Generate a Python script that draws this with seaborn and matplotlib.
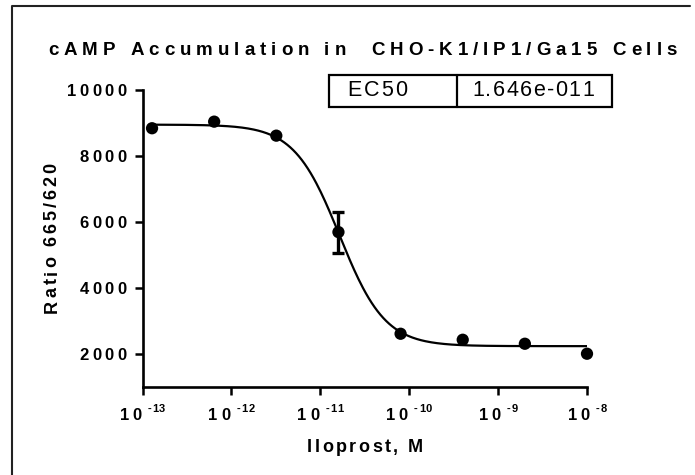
import numpy as np
import pandas as pd
import matplotlib
matplotlib.use('Agg')
import matplotlib.pyplot as plt
import seaborn as sns
from matplotlib.font_manager import FontProperties
from matplotlib.textpath import TextToPath
from matplotlib.lines import Line2D
from matplotlib.patches import Rectangle

# values
conc = [1.28e-13, 6.4e-13, 3.2e-12, 1.6e-11, 8e-11, 4e-10, 2e-9, 1e-8]
ratio = [8840, 9040, 8615, 5690, 2606, 2424, 2303, 2000]
sem = [0, 0, 0, 620, 0, 0, 0, 0]

# 4-parameter fit drawn on the chart
fit_top = 8950
fit_bottom = 2230
ec50 = 1.646e-11
hill = -1.7

xticks = [1e-13, 1e-12, 1e-11, 1e-10, 1e-9, 1e-8]
xtick_exp = ['-13', '-12', '-11', '-10', '-9', '-8']
yticks = [2000, 4000, 6000, 8000, 10000]

title = 'cAMP Accumulation in  CHO-K1/IP1/Ga15 Cells'
xlabel = 'Iloprost, M'
ylabel = 'Ratio 665/620'
table_cells = ['EC50', '1.646e-011']

df = pd.DataFrame({'conc': conc, 'ratio': ratio, 'sem': sem})
logx = np.linspace(np.log10(conc[0]), np.log10(conc[-1]), 300)
curve = pd.DataFrame({
    'conc': 10 ** logx,
    'ratio': fit_bottom + (fit_top - fit_bottom) / (1 + 10 ** ((np.log10(ec50) - logx) * hill)),
})

sns.set_style('ticks')
plt.rcParams['font.family'] = ['Liberation Sans', 'DejaVu Sans']

W, H = 695, 475
fig = plt.figure(figsize=(W / 100, H / 100), dpi=100, facecolor='white')
ax = fig.add_axes([142.5 / W, 1 - 386.7 / H, (587 - 142.5) / W, (386.7 - 90) / H])
ax.set_xscale('log')

sns.lineplot(data=curve, x='conc', y='ratio', ax=ax, color='black', lw=1.6)
sns.scatterplot(data=df, x='conc', y='ratio', ax=ax, color='black', s=78,
                edgecolor='none', zorder=3, clip_on=False)
eb = df[df['sem'] > 0]
ax.errorbar(eb['conc'], eb['ratio'], yerr=eb['sem'], fmt='none', ecolor='black',
            elinewidth=2.4, capsize=4.5, capthick=2.4, zorder=4)

ax.set_xlim(1e-13, 1e-8)
ax.set_ylim(1000, 10000)
ax.set_xticks(xticks)
ax.set_yticks(yticks)
ax.minorticks_off()
ax.set_xlabel('')
ax.set_ylabel('')
ax.tick_params(labelleft=False, labelbottom=False, length=6, width=1.8,
               color='black', direction='out')
for side in ['top', 'right']:
    ax.spines[side].set_visible(False)
for side in ['left', 'bottom']:
    ax.spines[side].set_linewidth(1.9)
    ax.spines[side].set_color('black')

# letter-spaced text, the chart uses wide tracking everywhere
t2p = TextToPath()


def glyph_offsets(s, prop, track):
    px = fig.dpi / 72
    size_px = prop.get_size_in_points() * px
    offs, pos = [], 0.0
    for ch in s:
        if ch == ' ':
            w = 0.278 * size_px
        else:
            w = t2p.get_text_width_height_descent(ch, prop, ismath=False)[0] * px
        offs.append(pos)
        pos += w + track
    return offs, pos - track


def spaced(s, x, y, size, track=0.0, width=None, weight='bold', ha='left', vertical=False):
    prop = FontProperties(family='Liberation Sans', weight=weight, size=size)
    if width is not None:
        _, natural = glyph_offsets(s, prop, 0.0)
        track = (width - natural) / (len(s) - 1)
    offs, total = glyph_offsets(s, prop, track)
    start = {'left': 0.0, 'center': -total / 2, 'right': -total}[ha]
    for ch, o in zip(s, offs):
        if ch == ' ':
            continue
        if vertical:
            px_, py_, rot = x, y - (start + o), 90
        else:
            px_, py_, rot = x + start + o, y, 0
        fig.text(px_ / W, 1 - py_ / H, ch, fontproperties=prop, rotation=rot,
                 rotation_mode='anchor', ha='left', va='baseline', color='black')
    return total


def to_px(xv, yv):
    dx, dy = ax.transData.transform((xv, yv))
    return dx, H - dy


# title and axis titles
spaced(title, 362.5, 55, 13.5, width=629, ha='center')
spaced(xlabel, 365, 452, 13, width=116, ha='center')
spaced(ylabel, 56.7, 238, 13, width=150, ha='center', vertical=True)

# y tick labels
for v in yticks:
    _, ty = to_px(1e-13, v)
    spaced(str(v), 126.7, ty + 6, 12, track=3.3, ha='right')

# x tick labels: 10 with superscript exponent
for v, e in zip(xticks, xtick_exp):
    tx, _ = to_px(v, 1000)
    pm = FontProperties(family='Liberation Sans', weight='bold', size=12)
    ps = FontProperties(family='Liberation Sans', weight='bold', size=8)
    _, wm = glyph_offsets('10', pm, 3.3)
    _, ws = glyph_offsets(e, ps, 1.0)
    left = tx - (wm + 6 + ws) / 2
    spaced('10', left, 419.5, 12, track=3.3)
    spaced(e, left + wm + 6, 411.5, 8, track=1.0)

# EC50 table box
fig.add_artist(Rectangle((329 / W, 1 - 107 / H), (612 - 329) / W, 32 / H,
                         transform=fig.transFigure, fill=False, lw=1.6, ec='black'))
fig.add_artist(Line2D([457 / W, 457 / W], [1 - 107 / H, 1 - 75 / H],
                      transform=fig.transFigure, lw=1.6, color='black'))
spaced(table_cells[0], 347, 96, 15.5, width=60, weight='normal')
spaced(table_cells[1], 472, 96, 15.5, width=122, weight='normal')

# outer frame (cut off at right and bottom)
fig.add_artist(Line2D([11.5 / W, 11.5 / W, 690 / W], [0, 1 - 6 / H, 1 - 6 / H],
                      transform=fig.transFigure, lw=1.5, color='#222222'))

fig.savefig('out.png', dpi=100, facecolor='white')
